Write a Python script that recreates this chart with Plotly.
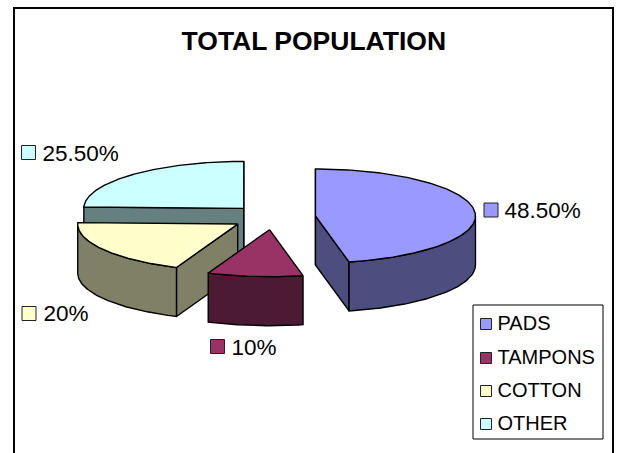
import numpy as np
import plotly.graph_objects as go

# ---- data ----
categories = ["PADS", "TAMPONS", "COTTON", "OTHER"]
values = [48.5, 10, 20, 25.5]
value_labels = ["48.50%", "10%", "20%", "25.50%"]
title_text = "TOTAL POPULATION"

# ---- style ----
top_colors = ["#9999FF", "#993366", "#FFFFCC", "#CCFFFF"]
wall_colors = ["#4D4D80", "#4D1A33", "#808066", "#668080"]
label_key_x = [491, 217.5, 29, 28.5]
label_key_y = [210, 346.5, 313.5, 152.5]
label_text_x = [504.5, 231.5, 43.5, 42.5]
label_text_y = [212.5, 349, 315, 155]
legend_key_x = [486, 486, 486, 486]
legend_key_y = [324, 358, 391, 424]
legend_text_x = [497.5, 497.5, 497.5, 497.5]
legend_text_y = [325, 359, 392, 425]

# ---- pie projection ----
CX, CY = 273.3, 217.3   # centre of the unexploded pie
RX, RY = 160.0, 47.0    # ellipse radii
DEPTH = 49.0            # wall height
PULL = 0.265            # explosion
FONT = "Liberation Sans"
DRAW_ORDER = [3, 0, 2, 1]

total = sum(values)
edges = np.concatenate([[0], np.cumsum(values)]) / total * 2 * np.pi


def rim(ax, ay, a):
    return ax + RX * np.sin(a), ay - RY * np.cos(a)


def poly(fig, xs, ys, color, name):
    fig.add_trace(go.Scatter(
        x=list(xs), y=list(ys), mode="lines", fill="toself", fillcolor=color,
        line=dict(color="#000000", width=1.4), hoverinfo="skip",
        showlegend=False, name=name))


fig = go.Figure()

for i in DRAW_ORDER:
    a0, a1 = edges[i], edges[i + 1]
    mid = (a0 + a1) / 2
    ax = CX + PULL * RX * np.sin(mid)
    ay = CY - PULL * RY * np.cos(mid)
    name = categories[i]
    # cut faces that turn towards the viewer
    faces = []
    if np.sin(a0) < 1e-6:
        faces.append(a0)
    if np.sin(a1) > -1e-6:
        faces.append(a1)
    for a in faces:
        rx, ry = rim(ax, ay, a)
        poly(fig, [ax, rx, rx, ax, ax], [ay, ry, ry + DEPTH, ay + DEPTH, ay], wall_colors[i], name)
    # outer wall: only the front half of the ellipse shows
    lo, hi = max(a0, np.pi / 2), min(a1, 3 * np.pi / 2)
    if hi > lo:
        t = np.linspace(lo, hi, 80)
        wx, wy = rim(ax, ay, t)
        poly(fig, np.concatenate([wx, wx[::-1], wx[:1]]),
             np.concatenate([wy, wy[::-1] + DEPTH, wy[:1]]), wall_colors[i], name)
    # top face
    t = np.linspace(a0, a1, 160)
    tx, ty = rim(ax, ay, t)
    poly(fig, np.concatenate([[ax], tx, [ax]]), np.concatenate([[ay], ty, [ay]]), top_colors[i], name)

# data labels with their colour keys
fig.add_trace(go.Scatter(
    x=label_key_x, y=label_key_y, mode="markers",
    marker=dict(symbol="square", size=14, color=top_colors,
                line=dict(color="#222222", width=1)),
    hoverinfo="skip", showlegend=False, name="label keys"))
fig.add_trace(go.Scatter(
    x=label_text_x, y=label_text_y, mode="text",
    text=value_labels, textposition="middle right",
    textfont=dict(family=FONT, size=22.5, color="#000000"),
    hoverinfo="skip", showlegend=False, name="labels"))

# legend block
fig.add_trace(go.Scatter(
    x=legend_key_x, y=legend_key_y, mode="markers",
    marker=dict(symbol="square", size=11, color=top_colors,
                line=dict(color="#222222", width=1)),
    hoverinfo="skip", showlegend=False, name="legend keys"))
fig.add_trace(go.Scatter(
    x=legend_text_x, y=legend_text_y, mode="text",
    text=categories, textposition="middle right",
    textfont=dict(family=FONT, size=20, color="#000000"),
    hoverinfo="skip", showlegend=False, name="legend"))

fig.update_layout(
    width=619, height=453, margin=dict(l=0, r=0, t=0, b=0),
    paper_bgcolor="#FFFFFF", plot_bgcolor="#FFFFFF", showlegend=False,
    title=dict(text="<b>%s</b>" % title_text, x=0.507, xanchor="center",
               y=1 - 41 / 453, yanchor="middle", yref="paper",
               font=dict(family=FONT, size=26.5, color="#000000")),
    xaxis=dict(range=[0, 619], visible=False, fixedrange=True),
    yaxis=dict(range=[453, 0], visible=False, fixedrange=True),
    shapes=[
        dict(type="rect", x0=14, y0=8, x1=613, y1=470, xref="x", yref="y",
             line=dict(color="#000000", width=2), fillcolor="rgba(0,0,0,0)", layer="below"),
        dict(type="rect", x0=473, y0=305, x1=603, y1=439, xref="x", yref="y",
             line=dict(color="#000000", width=1), fillcolor="#FFFFFF", layer="below"),
    ],
)

fig.write_html("out.html", post_script="document.body.style.margin='0';",
               config={"displayModeBar": False})
